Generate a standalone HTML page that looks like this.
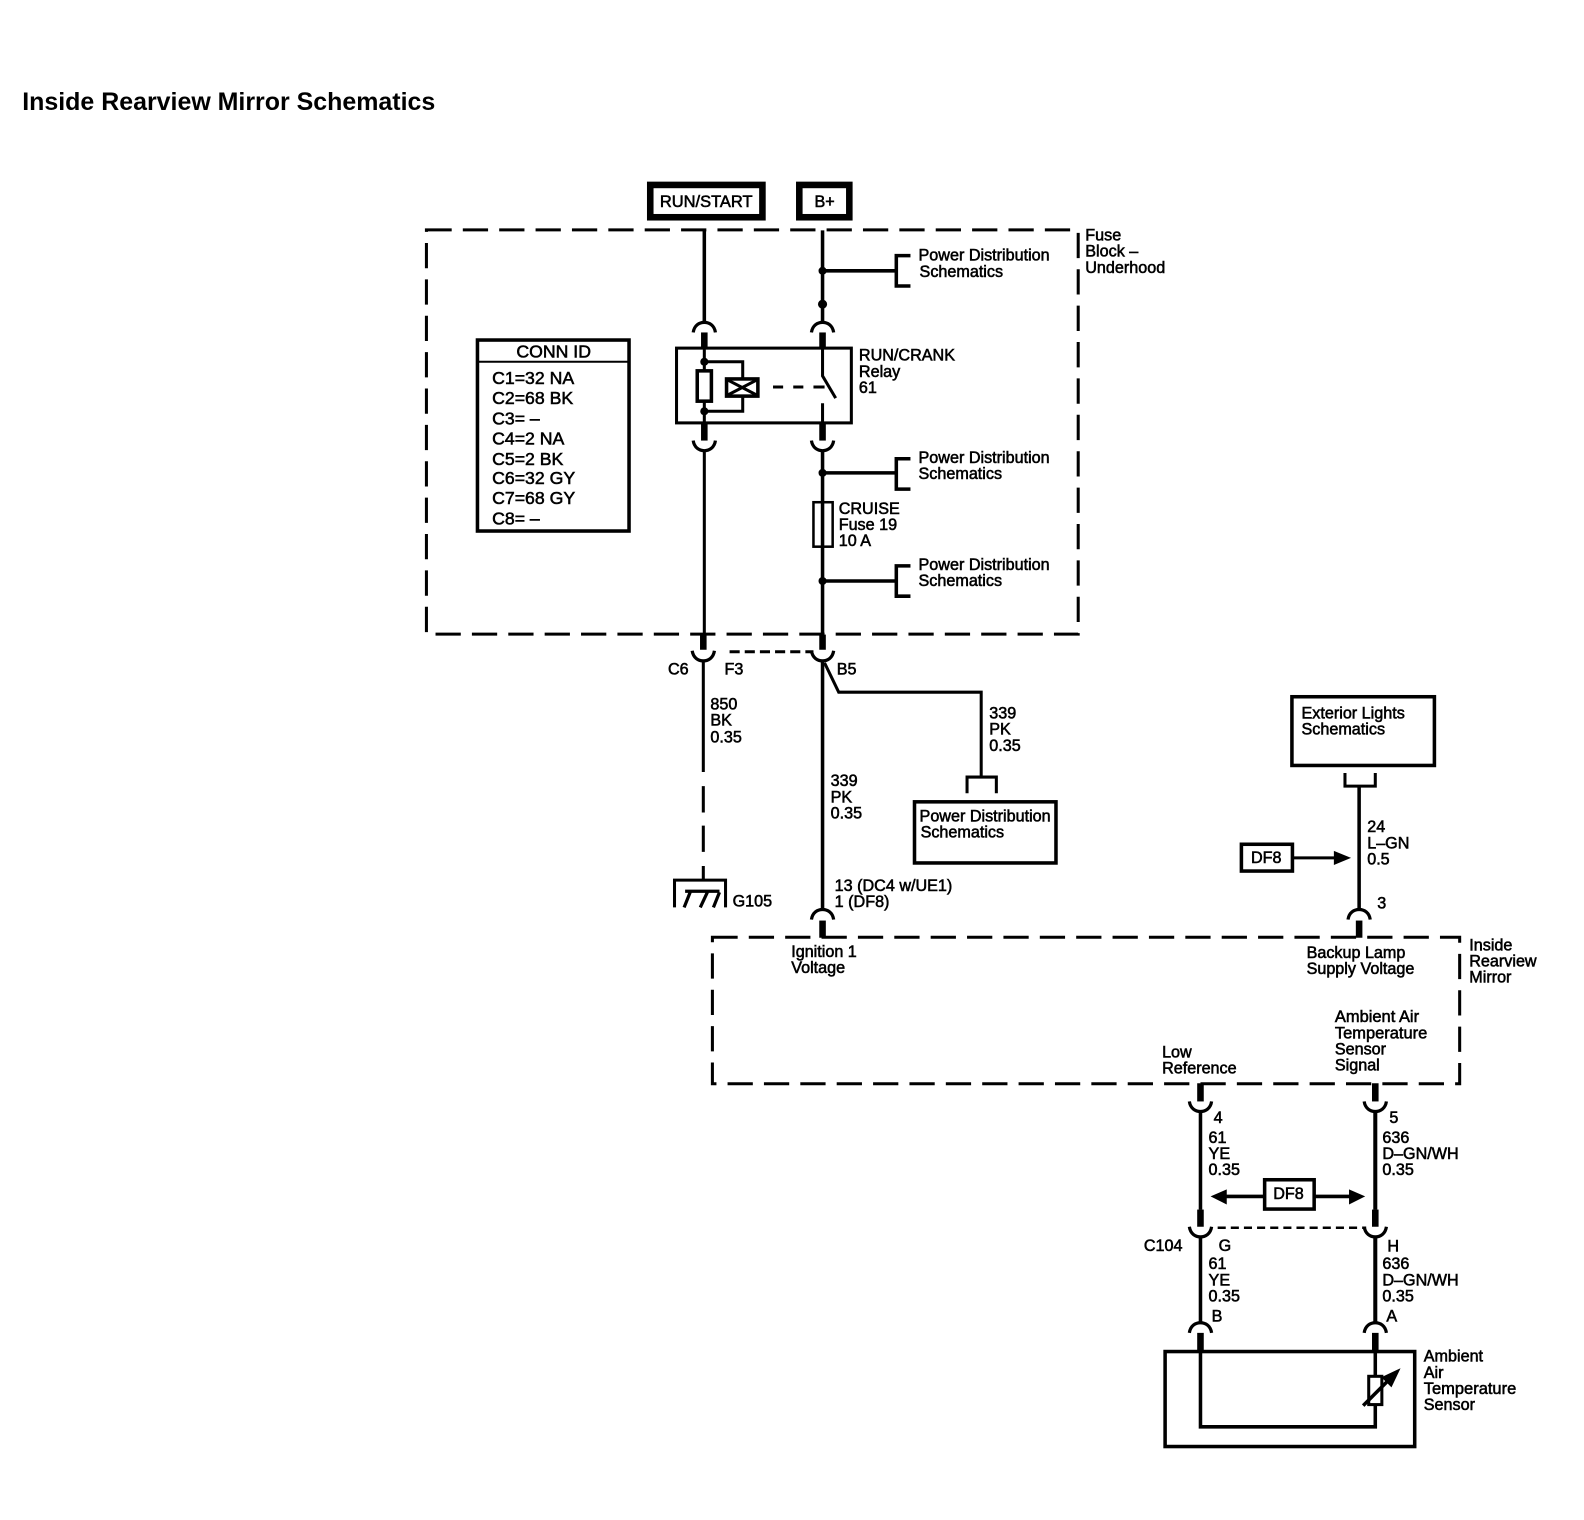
<!DOCTYPE html>
<html><head><meta charset="utf-8"><title>Inside Rearview Mirror Schematics</title>
<style>
html,body{margin:0;padding:0;background:#fff}
svg{display:block}
text{font-family:"Liberation Sans",sans-serif;font-size:16px;fill:#000;stroke:#000;stroke-width:.55}
.c{font-size:17.5px}
.l{fill:none;stroke:#000;stroke-width:3}
.m{fill:none;stroke:#000;stroke-width:3.5}
.t{fill:none;stroke:#000;stroke-width:6.5}
.d{fill:none;stroke:#000;stroke-width:3;stroke-dasharray:25 11}
.s{fill:none;stroke:#000;stroke-width:3;stroke-dasharray:10 5}
</style></head><body>
<svg xmlns="http://www.w3.org/2000/svg" width="1584" height="1520" viewBox="0 0 1584 1520">
<defs>
<path id="u" d="M-11,11 C-10,4 -5,1 0,1 C5,1 10,4 11,11" fill="none" stroke="#000" stroke-width="3.2"/>
<path id="n" d="M-11,0 C-10,7 -5,10 0,10 C5,10 10,7 11,0" fill="none" stroke="#000" stroke-width="3.2"/>
</defs>
<g transform="scale(1.0105)">
<text x="22" y="109" style="font-size:24.700px;font-weight:bold;stroke-width:0">Inside Rearview Mirror Schematics</text>

<!-- top sources -->
<rect x="643.500" y="183" width="111" height="32" class="l" style="stroke-width:6.500"/>
<rect x="791" y="183" width="49.500" height="32" class="l" style="stroke-width:6.500"/>
<text x="653" y="205" style="font-size:16.300px">RUN/START</text>
<text x="806" y="205">B+</text>

<!-- fuse block -->
<rect x="422" y="227.500" width="645" height="400" class="d"/>
<text x="1074" y="238">Fuse</text><text x="1074" y="254">Block –</text><text x="1074" y="270">Underhood</text>

<!-- conn id -->
<rect x="472.500" y="336.500" width="150" height="189" class="m"/>
<path d="M473,358H623" class="l" style="stroke-width:2"/>
<text class="c" x="511" y="354">CONN ID</text>
<text class="c" x="487" y="380">C1=32 NA</text>
<text class="c" x="487" y="400">C2=68 BK</text>
<text class="c" x="487" y="420">C3= –</text>
<text class="c" x="487" y="440">C4=2 NA</text>
<text class="c" x="487" y="460">C5=2 BK</text>
<text class="c" x="487" y="479">C6=32 GY</text>
<text class="c" x="487" y="499">C7=68 GY</text>
<text class="c" x="487" y="519">C8= –</text>

<!-- left wire -->
<path d="M697,228V318" class="m"/>
<use href="#u" x="697" y="318"/>
<path d="M697,329V345" class="t"/>
<path d="M697,419V436" class="t"/>
<use href="#n" x="697" y="436"/>
<path d="M697,446V628" class="l"/>
<path d="M696,628V643" class="t"/>
<use href="#n" x="696" y="644"/>
<path d="M696,654V764M696,778V804M696,817V843M696,857V872" class="l"/>

<!-- relay -->
<rect x="669.500" y="344.500" width="173" height="74" class="l"/>
<path d="M697,345V367M697,397V419" class="l"/>
<rect x="690" y="367" width="14" height="30" class="m" fill="#fff"/>
<circle cx="697" cy="358" r="4"/><circle cx="697" cy="407" r="4"/>
<path d="M697,358H735V407H697" class="l"/>
<rect x="719" y="375" width="31" height="17" fill="#fff" stroke="#000" stroke-width="3.500"/>
<path d="M720,376L749,391M749,376L720,391" class="l"/>
<path d="M765,383H775M785,383H795M805,383H816" class="l"/>
<path d="M814,345V372L827,394M814,399V419" class="l"/>

<!-- B+ wire -->
<path d="M814,228V318" class="m"/>
<circle cx="814" cy="268" r="4"/><circle cx="814" cy="301" r="4.500"/>
<path d="M814,268H887M901,253H887V283H901" class="m"/>
<use href="#u" x="814" y="318"/>
<path d="M814,329V345" class="t"/>
<path d="M814,419V436" class="t"/>
<use href="#n" x="814" y="436"/>
<path d="M814,446V497" class="m"/>
<circle cx="814" cy="468" r="4"/>
<path d="M814,468H887M901,454H887V484H901" class="m"/>
<rect x="805" y="497" width="19" height="44" class="l" style="stroke-width:2.500"/>
<path d="M814,497V628" class="m"/>
<circle cx="814" cy="575" r="4"/>
<path d="M814,575H887M901,560H887V590H901" class="m"/>
<path d="M814,628V643" class="t"/>
<use href="#n" x="814" y="644"/>
<path d="M814,654V899" class="m"/>
<text x="909" y="258">Power Distribution</text><text x="910" y="274">Schematics</text>
<text x="909" y="458">Power Distribution</text><text x="909" y="474">Schematics</text>
<text x="909" y="564">Power Distribution</text><text x="909" y="580">Schematics</text>
<text x="850" y="357">RUN/CRANK</text><text x="850" y="373">Relay</text><text x="850" y="389">61</text>
<text x="830" y="508.500">CRUISE</text><text x="830" y="524.500">Fuse 19</text><text x="830" y="540.500">10 A</text>

<path d="M722,645H805" class="s"/>
<text x="661" y="667.500">C6</text><text x="717" y="667.500">F3</text><text x="828" y="667.500">B5</text>
<text x="703" y="702">850</text><text x="703" y="718">BK</text><text x="703" y="735">0.35</text>
<text x="822" y="778">339</text><text x="822" y="794">PK</text><text x="822" y="810">0.35</text>

<!-- branch -->
<path d="M816,656L830,685H971V769" class="l"/>
<path d="M957,785V769H986V785" class="l"/>
<text x="979" y="711">339</text><text x="979" y="727">PK</text><text x="979" y="743">0.35</text>
<rect x="905" y="793.500" width="140" height="60.500" class="m"/>
<text x="910" y="813">Power Distribution</text><text x="911" y="829">Schematics</text>

<!-- ground -->
<path d="M667.500,898V871H718V898" class="l"/>
<path d="M678,882H712M683,883L677,898M700,883L693,898M712,883L706,898" class="l" style="stroke-width:3.200"/>
<text x="725" y="897">G105</text>

<!-- mirror -->
<use href="#u" x="814" y="899"/>
<path d="M814,911V928" class="t"/>
<text x="826" y="881.500">13 (DC4 w/UE1)</text><text x="826" y="897.500">1 (DF8)</text>
<rect x="705" y="927.500" width="739.500" height="145" class="d"/>
<text x="783" y="947">Ignition 1</text><text x="783" y="963">Voltage</text>
<text x="1293" y="948">Backup Lamp</text><text x="1293" y="964">Supply Voltage</text>
<text x="1454" y="940.500">Inside</text><text x="1454" y="956.500">Rearview</text><text x="1454" y="972.500">Mirror</text>
<text x="1321" y="1011.500" style="font-size:16.300px">Ambient Air</text><text x="1321" y="1027.500" style="font-size:16.300px">Temperature</text><text x="1321" y="1043.500">Sensor</text><text x="1321" y="1059.500">Signal</text>
<text x="1150" y="1046.500">Low</text><text x="1150" y="1062.500">Reference</text>

<!-- exterior lights -->
<rect x="1278.500" y="689.500" width="141" height="68" class="m"/>
<text x="1288" y="711">Exterior Lights</text><text x="1288" y="727">Schematics</text>
<path d="M1331,765V778H1361V765" class="l"/>
<path d="M1345,778V899" class="m"/>
<use href="#u" x="1345" y="899"/>
<path d="M1345,911V928" class="t"/>
<text x="1353" y="823.500">24</text><text x="1353" y="839.500">L–GN</text><text x="1353" y="855.500">0.5</text>
<text x="1363" y="899">3</text>
<rect x="1228.500" y="835.500" width="50.500" height="26.500" class="m"/>
<text x="1238" y="854">DF8</text>
<path d="M1280,849H1322" class="l"/>
<path d="M1337,849L1320,842V856Z"/>

<!-- lower wires -->
<path d="M1188,1072V1090" class="t"/><use href="#n" x="1188" y="1090"/>
<path d="M1361,1072V1090" class="t"/><use href="#n" x="1361" y="1090"/>
<path d="M1188,1100V1197" class="l" style="stroke-width:3.500"/>
<path d="M1361,1100V1197" class="l" style="stroke-width:4"/>
<path d="M1188,1197V1214" class="t"/><use href="#n" x="1188" y="1214"/>
<path d="M1361,1197V1214" class="t"/><use href="#n" x="1361" y="1214"/>
<path d="M1205,1215H1352" class="s" style="stroke-width:2.500;stroke-dasharray:8 5"/>
<path d="M1188,1224V1309" class="l" style="stroke-width:3.500"/>
<path d="M1361,1224V1309" class="l" style="stroke-width:4"/>
<use href="#u" x="1188" y="1308"/><use href="#u" x="1361" y="1308"/>
<path d="M1188,1319V1337M1361,1319V1337" class="t"/>

<text x="1201" y="1111.500">4</text><text x="1375" y="1111.500">5</text>
<text x="1196" y="1131">61</text><text x="1196" y="1147">YE</text><text x="1196" y="1163">0.35</text>
<text x="1368" y="1131">636</text><text x="1368" y="1147">D–GN/WH</text><text x="1368" y="1163">0.35</text>
<rect x="1251.500" y="1167.500" width="49" height="29" class="m"/>
<text x="1260" y="1186.500">DF8</text>
<path d="M1252,1184H1212M1301,1184H1336" class="m"/>
<path d="M1198,1184L1214,1177V1192Z"/><path d="M1351,1184L1335,1177V1192Z"/>
<text x="1132" y="1238">C104</text><text x="1206" y="1238">G</text><text x="1373" y="1238.500">H</text>
<text x="1196" y="1256">61</text><text x="1196" y="1272">YE</text><text x="1196" y="1288">0.35</text>
<text x="1368" y="1256">636</text><text x="1368" y="1272">D–GN/WH</text><text x="1368" y="1288">0.35</text>
<text x="1199" y="1308">B</text><text x="1372" y="1308">A</text>

<!-- sensor -->
<rect x="1153" y="1337.500" width="247" height="94" class="m"/>
<path d="M1188,1337V1412H1361V1390M1361,1337V1361" class="m"/>
<rect x="1354.500" y="1362" width="13" height="28" class="l" fill="#fff"/>
<path d="M1349,1391L1378,1362" class="m"/>
<path d="M1386,1354L1367,1363L1377,1373Z"/>
<text x="1409" y="1347.500">Ambient</text><text x="1409" y="1363.500">Air</text><text x="1409" y="1379.500" style="font-size:16.300px">Temperature</text><text x="1409" y="1395.500">Sensor</text>
</g>
</svg>
</body></html>
